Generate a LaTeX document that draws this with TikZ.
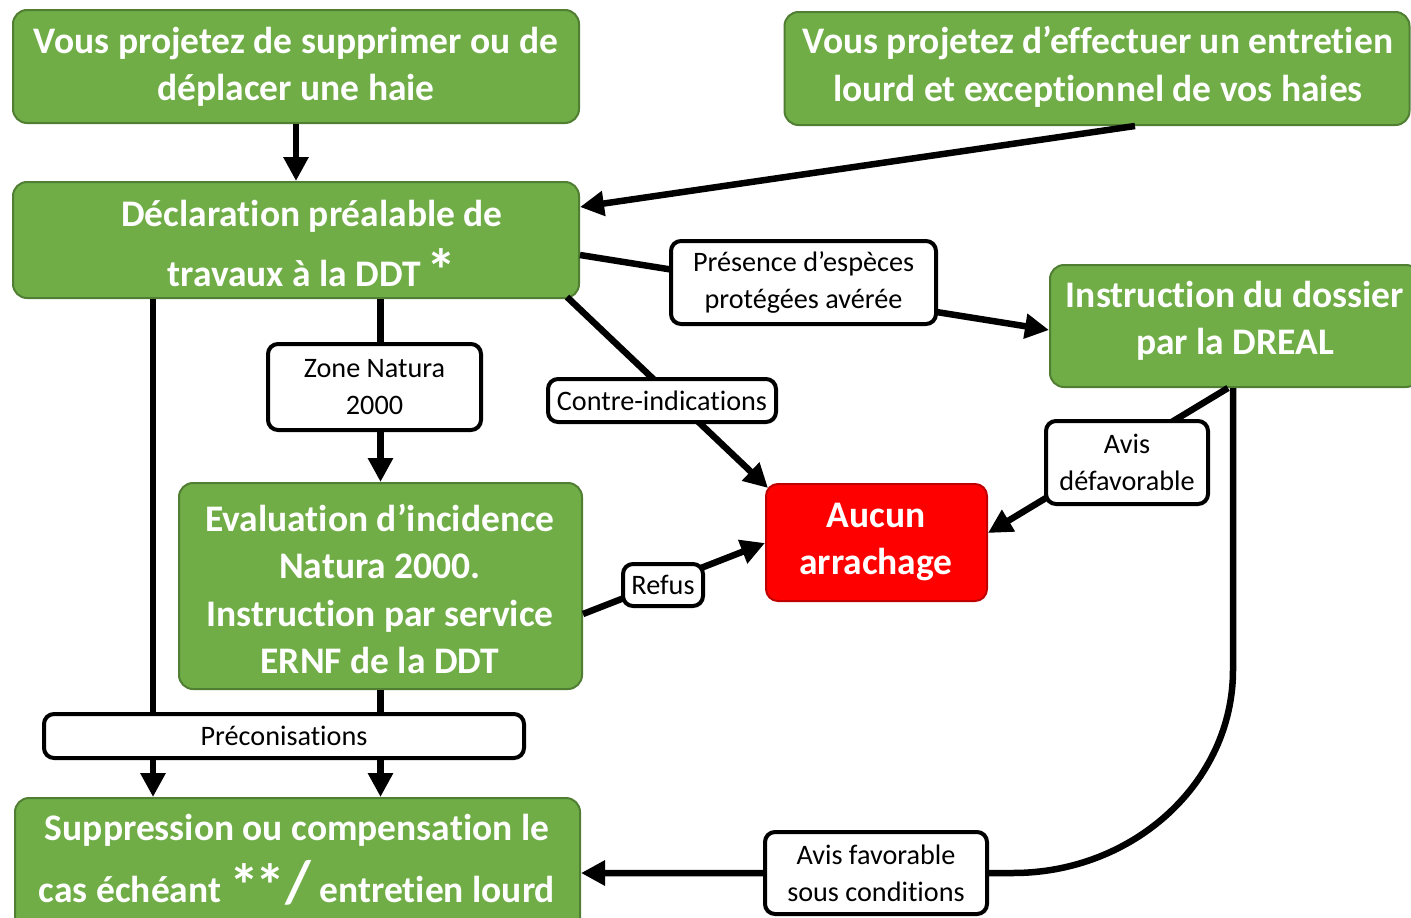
\documentclass[tikz,border=0pt]{standalone}
\usepackage{fontspec}
\setmainfont{Carlito}[Ligatures={NoCommon}]
\usetikzlibrary{arrows.meta,calc}
\definecolor{gfill}{HTML}{70AD47}
\definecolor{gline}{HTML}{507E32}
\definecolor{rfill}{HTML}{FF0000}
\definecolor{rline}{HTML}{C00000}
\begin{document}
\begin{tikzpicture}[x=1pt,y=-1pt,
  gbox/.style={draw=gline, line width=2pt, fill=gfill, rounded corners=14pt, inner sep=0pt},
  gtext/.style={text=white, font=\fontsize{37.5}{47.5}\selectfont\bfseries, align=center, inner sep=0pt},
  rbox/.style={draw=rline, line width=2pt, fill=rfill, rounded corners=12pt, inner sep=0pt},
  lbl/.style={draw=black, line width=4pt, fill=white, rounded corners=10pt, font=\fontsize{28.2}{37}\selectfont, align=center, inner sep=0pt},
  conn/.style={line width=6.5pt},
  arr/.style={conn, -{Triangle[length=24pt,width=24pt]}}
]
\useasboundingbox (0,0) rectangle (1411,918);

% green / red boxes
\node[gbox, minimum width=566pt, minimum height=113pt] (tl) at (296,66.5) {};
\node[gtext] (tltext) at (296,67) {Vous projetez de supprimer ou de\\déplacer une haie};

\node[gbox, minimum width=625pt, minimum height=113pt] (tr) at (1097,68.5) {};
\node[gtext] (trtext) at (1098,67) {Vous projetez d’effectuer un entretien\\lourd et exceptionnel de vos haies};

\node[gbox, minimum width=566pt, minimum height=116pt] (decl) at (296,240) {};
\node[gtext, font=\fontsize{37.5}{60}\selectfont\bfseries] (decltext) at (312,243)
  {Déclaration préalable de\\travaux à la DDT\kern-3pt\ {\fontsize{60}{60}\selectfont\smash{\raisebox{-5pt}{*}}}};

\node[gbox, minimum width=370pt, minimum height=122pt] (dreal) at (1235,326) {};
\node[gtext] (drealtext) at (1235,321) {Instruction du dossier\\par la DREAL};

\node[gbox, minimum width=403pt, minimum height=206pt] (eval) at (380.5,586) {};
\node[gtext] (evaltext) at (380,589) {Evaluation d’incidence\\Natura 2000.\\Instruction par service\\ERNF de la DDT};

\node[rbox, minimum width=221pt, minimum height=117pt] (red) at (876.5,542.5) {};
\node[gtext] (redtext) at (876,542) {Aucun\\arrachage};

\node[gbox, minimum width=565pt, minimum height=137pt] (supp) at (297.5,866.5) {};
\node[gtext, font=\fontsize{37.5}{62}\selectfont\bfseries] (supptext) at (297,858)
  {Suppression ou compensation le\\cas échéant {\fontsize{60}{60}\selectfont\smash{\raisebox{-4pt}{*\kern-4pt*}/}} entretien lourd};

% connector end points
\coordinate (tr-out) at (tr.south -| 1135,0);
\coordinate (decl-r1) at (decl.east |- 0,207);
\coordinate (decl-r2) at (decl.east |- 0,255);
\coordinate (dreal-l) at (dreal.west |- 0,330);
\coordinate (decl-c) at (567,297);
\coordinate (red-c) at (768,488);
\coordinate (eval-r) at (eval.east |- 0,614);
\coordinate (red-l) at (red.west |- 0,543);
\coordinate (dreal-b) at (dreal.south -| 1228,0);
\coordinate (red-r) at (red.east |- 0,533);
\coordinate (bend1) at (1233,670);
\coordinate (bend2) at (1013,873);
\coordinate (supp-r) at (supp.east |- 0,873);

% connectors
\draw[arr] (tl.south) -- (decl.north);
\draw[arr] (tr-out) -- (decl-r1);
\draw[arr] (decl-r2) -- (dreal-l);
\draw[arr] (decl-c) -- (red-c);
\draw[arr] (decl.south -| eval.north) -- (eval.north);
\draw[arr] (decl.south -| 153,0) -- (supp.north -| 153,0);
\draw[arr] (eval.south) -- (supp.north -| eval.south);
\draw[arr] (eval-r) -- (red-l);
\draw[arr] (dreal-b) -- (red-r);
\draw[arr] (dreal.south -| bend1) -- (bend1) .. controls (1233,782) and (1134,873) .. (bend2) -- (supp-r);

% labels
\node[lbl, minimum width=265pt, minimum height=83pt] (pres) at (803.5,282.5) {Présence d’espèces\\protégées avérée};
\node[lbl, minimum width=213pt, minimum height=86pt] (zone) at (374.5,387) {Zone Natura\\2000};
\node[lbl, minimum width=228pt, minimum height=43pt] (contre) at (662,400.5) {Contre-indications};
\node[lbl, minimum width=162pt, minimum height=83pt] (avisdef) at (1127,462.5) {Avis\\défavorable};
\node[lbl, minimum width=80pt, minimum height=42pt] (refus) at (663,585) {Refus};
\node[lbl, minimum width=480pt, minimum height=44pt] (precon) at (284,736) {Préconisations};
\node[lbl, minimum width=222pt, minimum height=82pt] (avisfav) at (876,873) {Avis favorable\\sous conditions};
\end{tikzpicture}
\end{document}
